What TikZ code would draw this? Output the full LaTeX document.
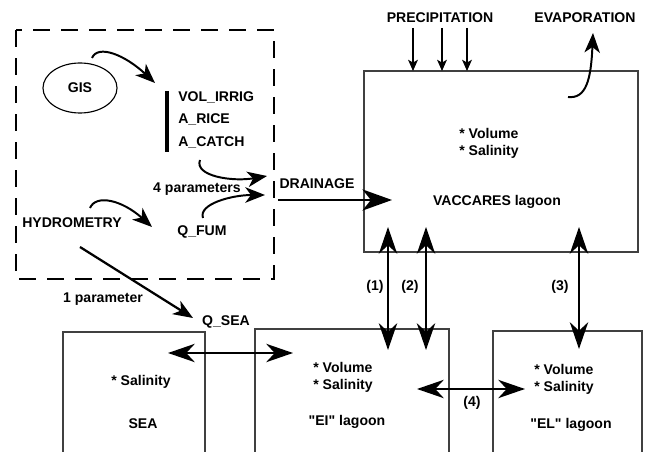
\documentclass[tikz,border=0pt]{standalone}
\usepackage{fontspec}
\setmainfont{Liberation Sans}[Ligatures=TeXOff]
\usetikzlibrary{shapes.geometric, arrows.meta, positioning}
\begin{document}
\begin{tikzpicture}[x=0.025cm, y=-0.025cm, font=\fontsize{10}{12}\selectfont\bfseries]
            \tikzstyle{txt} = [inner sep=0pt, text centered]
            \tikzstyle{lagoon} = [rectangle, draw=black!75, line width=0.9pt]
            \tikzstyle{bigarrow} = [line width=1.8pt, -{Stealth[length=21pt, width=15pt, inset=6pt]}]
            \tikzstyle{dblarrow} = [line width=1.8pt, {Stealth[length=19pt, width=13pt, inset=6pt]}-{Stealth[length=19pt, width=13pt, inset=6pt]}]
            \tikzstyle{curvearrow} = [line width=1.4pt, -{Stealth[length=14pt, width=11pt, inset=4pt]}]
            \tikzstyle{thinarrow} = [line width=0.8pt, -{Stealth[length=8pt, width=7pt, inset=2pt]}]

            \clip (0,0) rectangle (645,452);

            \draw [line width=1.6pt, dash pattern=on 0.42cm off 0.28cm] (16,30) rectangle (274,279);

            \node (gis) [ellipse, draw, line width=0.8pt, minimum width=1.85cm, minimum height=1.25cm] at (80,88) {GIS};
            \node (volirrig) [txt, anchor=west] at (178,97) {VOL\_IRRIG};
            \node (arice) [txt, anchor=west] at (178,119) {A\_RICE};
            \node (acatch) [txt, anchor=west] at (178,142) {A\_CATCH};
            \node (fourpar) [txt] at (197,189) {4 parameters};
            \node (hydro) [txt] at (72,223) {HYDROMETRY};
            \node (qfum) [txt] at (202,232) {Q\_FUM};
            \node (drainage) [txt] at (317,184) {DRAINAGE};
            \node (onepar) [txt] at (103,299) {1 parameter};
            \node (qsea) [txt] at (226,322) {Q\_SEA};
            \node (precip) [txt] at (440,18) {PRECIPITATION};
            \node (evap) [txt] at (585,18) {EVAPORATION};

            \node (vaccares) [lagoon, minimum width=6.85cm, minimum height=4.525cm] at (501,161.5) {};
            \node (vacstate) [txt, anchor=west, align=left] at (459,143.5) {* Volume\\* Salinity};
            \node (vacname) [txt] at (497,202) {VACCARES lagoon};

            \node (sea) [lagoon, minimum width=3.55cm, minimum height=3.45cm] at (134,401) {};
            \node (seastate) [txt] at (141,382) {* Salinity};
            \node (seaname) [txt] at (143,424) {SEA};

            \node (ei) [lagoon, minimum width=4.85cm, minimum height=3.525cm] at (352,399.5) {};
            \node (eistate) [txt, anchor=west, align=left] at (313,377.5) {* Volume\\* Salinity};
            \node (einame) [txt] at (347,422) {"EI" lagoon};

            \node (el) [lagoon, minimum width=3.725cm, minimum height=3.475cm] at (567.5,400.5) {};
            \node (elstate) [txt, anchor=west, align=left] at (534,379.5) {* Volume\\* Salinity};
            \node (elname) [txt] at (571,425) {"EL" lagoon};

            \node (lone) [txt] at (375,287) {(1)};
            \node (ltwo) [txt] at (410,287) {(2)};
            \node (lthree) [txt] at (560,287) {(3)};
            \node (lfour) [txt] at (472,403) {(4)};

            \coordinate (bartop) at (167,91);
            \coordinate (barbot) at (167,152);
            \draw [line width=2.2pt] (bartop) -- (barbot);

            \coordinate (gisout) at (92,58);
            \coordinate (parin) at (155,83);
            \coordinate (catchout) at (200,160);
            \coordinate (catchin) at (267,176);
            \coordinate (fumout) at (203,218);
            \coordinate (fumin) at (265,195);
            \coordinate (hydout) at (90,208);
            \coordinate (hydin) at (152,227);
            \coordinate (seaout) at (80,247);
            \coordinate (seain) at (193,318);
            \coordinate (drainout) at (278,200);
            \coordinate (drainin) at (392,200);
            \coordinate (evapout) at (568,97);
            \coordinate (evapin) at (593,33);

            \draw [curvearrow] (gisout) .. controls (98,44) and (125,55) .. (parin);
            \draw [curvearrow] (catchout) .. controls (194,176) and (232,182) .. (catchin);
            \draw [curvearrow] (fumout) .. controls (198,204) and (232,195) .. (fumin);
            \draw [curvearrow] (hydout) .. controls (96,194) and (122,200) .. (hydin);
            \draw [curvearrow, line width=1.6pt] (seaout) -- (seain);
            \draw [bigarrow] (drainout) -- (drainin);
            \draw [curvearrow] (evapout) .. controls (586,99) and (591,80) .. (evapin);

            \foreach \px/\pn in {413/pa, 442/pb, 467/pc} {
                \coordinate (\pn top) at (\px,28);
                \coordinate (\pn bot) at (\px,71);
                \draw [thinarrow] (\pn top) -- (\pn bot);
            }

            \coordinate (vone) at (388,227);
            \coordinate (eone) at (388,350);
            \coordinate (vtwo) at (426,227);
            \coordinate (etwo) at (426,350);
            \coordinate (vthree) at (579,227);
            \coordinate (ethree) at (579,349);
            \coordinate (seaend) at (168,353);
            \coordinate (eiwest) at (293,353);
            \coordinate (eieast) at (417,389);
            \coordinate (elwest) at (525,389);

            \draw [dblarrow] (vone) -- (eone);
            \draw [dblarrow] (vtwo) -- (etwo);
            \draw [dblarrow] (vthree) -- (ethree);
            \draw [dblarrow] (seaend) -- (eiwest);
            \draw [dblarrow] (eieast) -- (elwest);
        \end{tikzpicture}
\end{document}
